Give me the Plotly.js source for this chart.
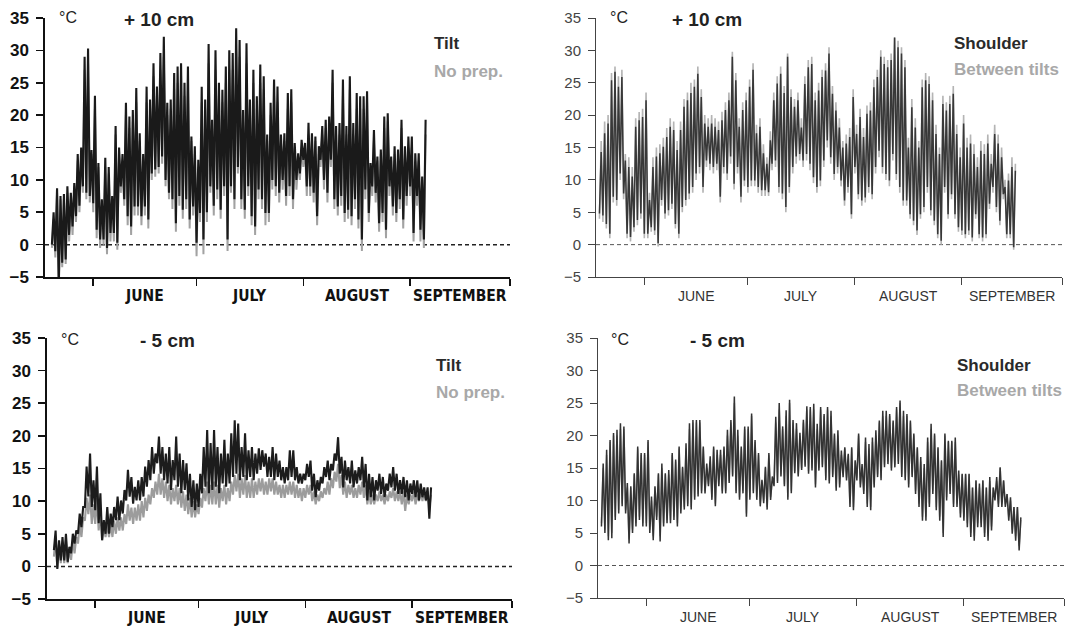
<!DOCTYPE html>
<html><head><meta charset="utf-8">
<script src="https://cdn.plot.ly/plotly-3.0.1.min.js"></script>
<style>html,body{margin:0;padding:0;background:#fff}#chart{width:1073px;height:628px}</style>
</head><body><div id="chart"></div>
<script>
// ---- Data (day index: May 1 = 0, June 1 = 31) ----
const monthBounds = [31, 61, 92, 123, 152];
const monthNames = ["JUNE", "JULY", "AUGUST", "SEPTEMBER"];
const yTicks = [-5, 0, 5, 10, 15, 20, 25, 30, 35];

// Top-left: +10 cm, Tilt vs No prep. (daily max / min), first day 19
const tlStart = 19;
const tlTiltMax = [5,8.7,7.5,7.8,9,8,9.5,14,15,29,30.3,
 14.6,23,12.6,7,13.4,12,7.5,18.3,15,14,
 21.9,19.8,20.8,24.2,17.2,14,24.4,22.4,28,24.4,
 29.6,32.1,21.9,22.4,26.5,27.5,28,25,27.5,16.7,
 15.2,13.1,24.4,22.4,31,19.3,30,25,23.9,27.5,
 30,29.6,33.4,31.6,20.8,31.1,22.4,27,22.9,27.8,
 26,17,21.9,25.5,24.4,17,17.2,23.4,24,15.7,
 14.1,16.2,15.7,18.8,17.2,16.7,15.2,18.3,19.3,19.8,
 27,18.3,18.8,25.5,18.3,26,18.8,23.4,22.9,22.9,
 23.7,12.6,17.7,13.6,14.7,19.8,20.3,13.6,15.2,14.7,
 19.3,15.2,16.7,16.7,14.1,14.1,10.5,19.3];
const tlTiltMin = [0,-1,-6.5,-2.8,-2.3,1.5,2.8,4.4,6,9,8,
 7.5,6.4,2.3,0.8,0.8,-0.5,1.8,1.8,0.3,9,
 7,4.4,2.8,5.9,5.9,4.4,5.9,3.9,11,11.6,
 12,13.6,10,8,7,3.3,7.5,5.4,7,3.9,
 5.9,0.3,4.9,0.8,5,9,6,8.5,5.4,9,
 0.8,9,7,12,7,5.4,9,4.4,2.8,8.5,
 7,4.9,4.9,10,9,8,10,7.5,9,7,
 10,11,13.1,9,9,8,4.4,13.1,10,8,
 13.1,7,5.9,7.5,4.9,5.4,4.4,7,3.9,0.8,
 8.5,4.9,9,8,3.3,4.9,2.3,9,5.9,4.9,
 7,3.9,7.5,9,1.8,7.5,2.3,0.8];
const tlNoPrepMax = [4,8,7,7,8,7,9,13,14,27,28,
 14,21,12,6,12,11,7,17,14,13,
 20,18,19,22,16,13,22,21,26,23,
 27,29,20,21,24,25,26,23,25,16,
 14,12,22,21,28,18,27,23,22,25,
 27,27,30,29,19,28,21,25,21,25,
 24,16,20,23,22,16,16,21,22,15,
 13,15,15,17,16,16,14,17,18,18,
 25,17,17,23,17,24,17,21,21,21,
 22,12,16,13,14,18,19,13,14,14,
 18,14,15,15,13,13,10,17];
const tlNoPrepMin = [-0.5,-2,-6,-3.5,-3,0.5,1.5,3.5,5,8,7,
 6.5,5,1,-0.5,0,-1.5,0.5,0.5,-0.8,8,
 6,3,1.5,4.5,4.5,3,4.5,2.5,10,10.5,
 11,12.5,9,7,5.5,2,6,4,5.5,2.5,
 4.5,-1.8,3.5,-1.5,3.5,8,4.5,7,4,7.5,
 -1,8,5.5,11,5.5,4,7.5,3,1.5,7,
 5.5,3,3.5,8.5,7.5,6.5,8.5,6,7.5,5.5,
 8.5,10,12,7.5,7.5,6.5,3,12,8.5,6.5,
 12,5.5,4.5,6,3.5,4,3,5.5,2.5,-1,
 7,3.5,7.5,6.5,2,3.5,1,7.5,4.5,3.5,
 5.5,2.5,6,7.5,0.5,6,0.5,-0.5];

// Top-right: +10 cm, Shoulder vs Between tilts, first day 18
const trStart = 18;
const trShoulderMax = [14.3,17.2,18.7,25.4,26.7,24.4,25.9,13,12,10.5,
 18.2,19.2,19.7,22.3,6.9,12,13.6,14.1,15.1,16.6,
 18.2,17.7,14.6,17.7,21.3,22.3,23.4,24.4,26.4,22.8,
 18.7,18.2,18.7,18.2,17.7,19.2,20.8,22.3,29,25.4,
 18.2,20.8,22.3,24.4,27,17.2,18.2,14.1,12.5,16.1,
 22.3,24.9,26.4,23.4,29,22.8,21.3,22.3,18.1,24.8,
 27.4,27.9,22.3,23.8,25.9,26.9,29.5,23.3,20.7,18.1,
 15,15.6,16.6,22.8,17.1,19.7,16.6,20.2,20.7,24.3,
 25.9,29,27.9,27.4,28.5,32,30.5,29.5,27.4,15,
 21.2,18.1,15,24.3,25.4,24.8,22.3,17.1,14,21.7,
 20.7,21.7,23.3,17.1,13.5,18.7,15,15.6,14,12,
 14.5,14,15.6,12.5,17.1,15.6,13.5,8.9,9.9,12,11.4];
const trShoulderMin = [4.8,4.5,3.2,1.7,7.4,6.9,11,7.9,1.7,1.2,
 2.7,3.8,4.8,1.7,1.7,2.7,2.2,0.2,6.9,4.8,
 5.3,6.3,3.2,1.7,5.8,6.9,7.9,8.9,11,12,
 8.9,13,12.5,12,12.5,7.4,12,11,13.6,9.4,
 12,7.4,9.9,8.9,9.9,9.9,8.9,8.4,8.4,8.1,
 12.5,13,8.9,7.9,5.8,8.9,12,13.6,14,13,
 14,12.5,10.4,8.9,9.9,13,16.1,13.5,10.9,12,
 9.9,6.8,8.9,4.7,12,7.8,6.8,7.3,8.9,7.8,
 12,14.5,12,10.9,9.9,14,10.9,8.9,6.8,6.8,
 4.7,3.7,2.2,4.7,5.8,8.9,5.3,3.7,1.6,0.6,
 8.9,4.7,7.8,4.7,2.7,2.2,1.6,2.2,1.1,4.7,
 1.6,1.1,1.6,6.3,8.9,5.8,3.7,7.8,1.6,1.6,-0.4];
const trBetweenMax = [16,19,20,26.5,27.5,26,27,14,13.5,12,
 19.5,20.5,21,23.5,8,13.5,15,15.5,16.5,18,
 19.5,19,16,19,22.5,23.5,25,25.5,27.5,24,
 20,19.5,20,19.5,19,20.5,22,23.5,29.8,26.5,
 19.5,22,23.5,25.5,28,18.5,19.5,15.5,13.5,17.5,
 23.5,26,27.5,24.5,29.5,24,22.5,23.5,19.5,26,
 28.5,29,23.5,25,27,28,30.5,24.5,22,19.5,
 16,17,18,24,18.5,21,18,21.5,22,25.5,
 27,30,29,28.5,29.5,32,31.5,30.5,28.5,16.5,
 22.5,19.5,16,25.5,26.5,26,23.5,18.5,15,23,
 22,23,24.5,18.5,15,20,16.5,17,15.5,13.5,
 16,15.5,17,14,18.5,17,15,10,11,13.5,12.5];
const trBetweenMin = [4,3.5,2.5,1,6.5,6,10,7,1,0.5,
 2,3,4,1,1,2,1.5,-0.3,6,4,
 4.5,5.5,2.5,1,5,6,7,8,10,11,
 8,12,11.5,11,11.5,6.5,11,10,12.5,8.5,
 11,6.5,9,8,9,9,8,7.5,7.5,7.5,
 11.5,12,8,7,5,8,11,12.5,13,12,
 13,11.5,9.5,8,9,12,15,12.5,10,11,
 9,6,8,4,11,7,6,6.5,8,7,
 11,13.5,11,10,9,13,10,8,6,6,
 4,3,1.5,4,5,8,4.5,3,1,0,
 8,4,7,4,2,1.5,1,1.5,0.5,4,
 1,0.5,1,5.5,8,5,3,7,1,1,-0.8];

// Bottom-left: -5 cm, Tilt vs No prep., first day 19
const blStart = 19;
const blTiltMax = [5.5,4,4.5,5,3,5,5.5,8.1,9.1,15.3,
 17.3,13.2,15.3,11.2,7.1,9.1,8.1,9.1,10.7,10.1,
 11.7,14.8,13.7,12.2,13.2,13.7,15.3,16.3,18.3,17.3,
 19.9,18.3,17.3,18.3,16.3,19.9,17.3,16.3,15.8,14.2,
 13.2,12.7,14.2,18.3,20.9,18.9,20.9,18.3,17.3,19.4,
 17.3,20.4,22.4,21.9,18.3,20.4,17.8,18.3,17.3,18.1,
 17.8,17.3,16.8,18.3,17.3,16.2,15.2,15.2,17.8,17.8,
 15.2,14.2,14.2,15.7,16.2,14.2,13.2,13.7,15.2,16.2,
 15.7,17.3,19.8,16.8,16.2,15.2,16.2,14.7,15.2,16.8,
 15.7,14.2,13.7,13.2,14.2,13.7,12.7,14.2,15.2,14.2,
 13.2,13.7,13.2,12.7,13.2,13.2,12.7,12.1,12.1,12.1];
const blTiltMin = [2.5,-0.4,0.9,0.9,0.7,2,3.5,5,6,9.1,
 10.7,9.1,8.6,6.6,4,5,5,6,7.1,7.1,
 8.1,10.1,10.7,9.6,10.1,10.1,10.7,12.2,13.2,14.2,
 15.8,14.2,13.2,12.7,11.7,13.2,12.2,11.2,11.7,10.1,
 9.1,8.6,9.1,11.2,12.2,11.2,11.7,12.2,11.2,12.7,
 12.2,12.7,13.7,14.2,13.2,13.7,13.2,13.7,13.2,14.2,
 14.8,15.3,13.7,13.7,13.2,13.7,13.2,12.7,13.2,13.7,
 13.2,12.7,12.7,13.2,13.7,11.6,10.6,11.6,12.7,13.7,
 13.2,14.7,16.2,14.2,12.1,13.2,12.7,12.1,12.7,13.2,
 12.1,10.1,10.6,10.1,11.6,11.1,10.6,11.6,12.1,11.6,
 11.1,11.1,10.6,10.1,11.1,10.6,10.1,10.6,10.1,7.3];
const blNoPrepMax = [4.5,3.5,3.5,4,2.5,4,4.5,6.5,7.5,10.5,
 11,9.5,10.5,8.5,6,6.5,6.5,7,7.5,7.5,
 8,9.5,9,9,9.5,10,10.5,11,12,13,
 14.2,13.5,13,12.5,12,12.5,12,11.5,11,10.5,
 10,9.5,10.5,12,13,12.5,13,12.5,12,12.5,
 12,13,14,14.2,13.5,14,13,13.5,13,13.5,
 13.5,13,13.5,13.5,13,12.5,12.5,12.5,13,13,
 12.5,12,12,12.5,12.5,11.5,11,11.5,12,13,
 13.5,14.5,15.7,14,13,12.5,12.5,12,12.5,13,
 12.5,11.5,11,11,11.5,11,11,11.5,12,11.5,
 11.5,11.5,11,11,11.5,11,11.5,11.5,11.5,11];
const blNoPrepMin = [1.5,-0.2,0.5,0.5,0.5,1,2,3.5,4.5,7,
 8,6.5,6.5,5.5,4,4.5,4.5,4.5,5,5.5,
 5.5,6.5,7,6.5,7,7,7.5,8.5,9.5,10.5,
 11,11,10.5,10,9.5,10,9.5,9,8.5,8,
 7.5,7.5,8,9,10,9.5,9.5,9.5,9,10,
 9.5,10,11,11.5,10.5,11,10.5,10.5,10.5,11,
 11.5,11,11,11.5,11,11,10.5,10.5,11,11,
 10.5,10.5,10,10.5,11,10,9.5,10,10.5,11,
 11,12,13,12,11,10.5,11,10.5,10.5,11,
 10.5,9.5,9.5,9.5,10,10,9.5,10,10.5,10,
 10,9.5,8.5,9.5,10,9.5,10,10,10,9];

// Bottom-right: -5 cm, Shoulder vs Between tilts, first day 18
const brStart = 18;
const brShoulderMax = [15.7,17.8,19.3,20.4,20.9,21.9,21.4,12.7,12.2,14.2,
 18.3,17.3,17.3,19.3,10.6,12.2,14.2,15.7,14.2,14.7,
 17.3,16.3,18.3,15.2,18.8,21.9,22.4,22.4,22.4,18.3,
 15.7,16.8,18.3,17.8,17.8,18.3,20.9,22.4,26,20.9,
 18.3,21.4,21.4,23.4,19.3,17.3,13.2,15.2,17.3,13.7,
 22.9,25,21.4,23.9,25.5,22.4,21.9,20.4,22.4,24.5,
 24.4,24.9,21.8,24.4,23.3,24.4,23.8,20.3,20.8,17.7,
 18.2,17.2,18.2,16.2,20.3,15.6,19.7,18.7,19.7,20.8,
 22.3,23.8,23.8,23.3,22.3,24.4,25.4,23.8,23.3,22.3,
 20.3,18.2,16.7,15.6,19.7,21.8,20.3,18.2,16.2,20.3,
 19.2,19.2,19.7,14.6,14.1,14.1,14.1,12,13.1,12.6,
 13.1,12,13.6,12,13.6,15.1,13.1,11,10.5,9,9,7.4];
const brShoulderMin = [6,5,3.9,4.2,7,8,9.1,8,3.4,5,
 6,7,6,6,5,3.9,7,3.7,6,6.5,
 6.5,7,6,8,8.6,9.1,8.6,10.1,10.6,11.1,
 11.1,12.2,10.1,9.1,12.2,11.1,11.1,12.7,13.7,11.1,
 10.1,11.1,7.5,10.1,11.1,10.1,9.1,9.6,8.6,10.1,
 12.2,12.7,13.7,12.2,10.1,11.1,14.2,13.7,14.7,15.2,
 14.1,14.6,12,14.6,15.1,13.1,12.6,13.6,11.5,12,
 13.6,13.1,9,8.5,13.1,12,11,9,8.5,12,
 13.6,13.1,15.1,15.6,14.6,15.1,15.6,13.6,13.1,12,
 13.6,11,9,6.9,6.9,9,11,8.5,6.9,4.4,
 10,11,9,9,7.4,6.9,5.9,4.4,3.8,5.9,
 5.9,4.4,3.8,5.4,10,9,9,9,6.9,4.9,3.8,2.3];
const brBetweenMax = [15,17,19,20,20,21,21,12,12,14,
 18,17,17,19,10,12,14,15,14,14,
 17,16,18,15,18,21,22,22,22,18,
 15,16,18,17,17,18,20,22,25,20,
 18,21,21,23,19,17,13,15,17,13,
 22,24,21,23,25,22,21,20,22,24,
 24,24,21,24,23,24,23,20,20,17,
 18,17,18,16,20,15,19,18,19,20,
 22,23,23,23,22,24,25,23,23,22,
 20,18,16,15,19,21,20,18,16,20,
 19,19,19,14,14,14,14,12,13,12,
 13,12,13,12,13,15,13,11,10,9,9,7];
const brBetweenMin = [6.5,5.5,4.5,5,7.5,8.5,9.5,8.5,4,5.5,
 6.5,7.5,6.5,6.5,5.5,4.5,7.5,4.5,6.5,7,
 7,7.5,6.5,8.5,9,9.5,9,10.5,11,11.5,
 11.5,12.5,10.5,9.5,12.5,11.5,11.5,13,14,11.5,
 10.5,11.5,8,10.5,11.5,10.5,9.5,10,9,10.5,
 12.5,13,14,12.5,10.5,11.5,14.5,14,15,15.5,
 14.5,15,12.5,15,15.5,13.5,13,14,12,12.5,
 14,13.5,9.5,9,13.5,12.5,11.5,9.5,9,12.5,
 14,13.5,15.5,16,15,15.5,16,14,13.5,12.5,
 14,11.5,9.5,7.5,7.5,9.5,11.5,9,7.5,5,
 10.5,11.5,9.5,9.5,8,7.5,6.5,5,4.5,6.5,
 6.5,5,4.5,6,10.5,9.5,9.5,9.5,7.5,5.5,4.5,3];

// ---- Build daily min->max zigzag (two readings per day) ----
function zig(start, mx, mn) {
  const x = [], y = [];
  for (let i = 0; i < mx.length; i++) {
    x.push(start + i, start + i + 0.5);
    y.push(mn[i], mx[i]);
  }
  return {x, y};
}
function tr(start, mx, mn, xa, ya, color, w, name) {
  const z = zig(start, mx, mn);
  return {x: z.x, y: z.y, xaxis: xa, yaxis: ya, type: 'scatter', mode: 'lines',
    line: {color: color, width: w}, name: name, showlegend: false, hoverinfo: 'skip'};
}

const W = 1073, H = 628;
const px = v => v / W, py = v => 1 - v / H;

const panels = [
  {xa: 'x',  ya: 'y',  xd: [45, 510],   yd: [277, 18],  bold: true},
  {xa: 'x2', ya: 'y2', xd: [596, 1062], yd: [277, 18],  bold: false},
  {xa: 'x3', ya: 'y3', xd: [47, 512],   yd: [599, 338], bold: true},
  {xa: 'x4', ya: 'y4', xd: [598, 1064], yd: [598, 338], bold: false}
];

const data = [
  tr(tlStart, tlNoPrepMax, tlNoPrepMin, 'x', 'y', '#a2a2a2', 2.0, 'No prep.'),
  tr(tlStart, tlTiltMax, tlTiltMin, 'x', 'y', '#1a1a1a', 2.1, 'Tilt'),
  tr(trStart, trBetweenMax, trBetweenMin, 'x2', 'y2', '#b4b4b4', 1.6, 'Between tilts'),
  tr(trStart, trShoulderMax, trShoulderMin, 'x2', 'y2', '#383838', 1.5, 'Shoulder'),
  tr(blStart, blNoPrepMax, blNoPrepMin, 'x3', 'y3', '#9c9c9c', 2.1, 'No prep.'),
  tr(blStart, blTiltMax, blTiltMin, 'x3', 'y3', '#1c1c1c', 2.1, 'Tilt'),
  tr(brStart, brBetweenMax, brBetweenMin, 'x4', 'y4', '#b0b0b0', 1.6, 'Between tilts'),
  tr(brStart, brShoulderMax, brShoulderMin, 'x4', 'y4', '#333333', 1.5, 'Shoulder')
];

const boldFont = 'DejaVu Sans Condensed, Liberation Sans, Arial, sans-serif';
const plainFont = 'Liberation Sans, Arial, sans-serif';

const layout = {
  width: W, height: H, margin: {l: 0, r: 0, t: 0, b: 0},
  paper_bgcolor: '#fff', plot_bgcolor: 'rgba(0,0,0,0)', showlegend: false,
  shapes: [], annotations: []
};

panels.forEach((p, i) => {
  const n = i === 0 ? '' : String(i + 1);
  const axCol = p.bold ? '#111' : '#444';
  const lw = p.bold ? 1.6 : 1;
  layout['xaxis' + n] = {
    domain: [px(p.xd[0]), px(p.xd[1])], anchor: 'y' + n, range: [17, 152],
    tickvals: monthBounds, ticks: 'outside', ticklen: 7, tickwidth: lw, tickcolor: axCol,
    showticklabels: false, showline: true, linecolor: axCol, linewidth: lw,
    showgrid: false, zeroline: false, fixedrange: true
  };
  layout['yaxis' + n] = {
    domain: [py(p.yd[0]), py(p.yd[1])], anchor: 'x' + n, range: [-5, 35],
    tickvals: yTicks, ticks: 'outside', ticklen: 7, tickwidth: lw, tickcolor: axCol,
    showline: true, linecolor: axCol, linewidth: lw, showgrid: false, zeroline: false,
    ticklabelstandoff: 4,
    tickfont: p.bold ? {family: plainFont, size: 17, weight: 'bold', color: '#111'}
                     : {family: plainFont, size: 15, color: '#444'},
    fixedrange: true
  };
  layout.shapes.push({type: 'line', xref: 'x' + n + ' domain', yref: 'y' + n, x0: 0, x1: 1, y0: 0, y1: 0,
    layer: 'below', line: {color: p.bold ? '#222' : '#555', width: p.bold ? 1.5 : 1, dash: '4px,3px'}});
  // month labels
  const labY = p.yd[0] + 19;
  monthNames.forEach((m, k) => {
    layout.annotations.push({xref: 'x' + n, yref: 'paper', x: (monthBounds[k] + monthBounds[k + 1]) / 2,
      y: py(labY), text: m, showarrow: false, xanchor: 'center', yanchor: 'middle',
      font: p.bold ? {family: boldFont, size: 15.5, weight: 'bold', color: '#111'}
                   : {family: plainFont, size: 14, color: '#333'}});
  });
});

function ann(text, x, y, font, anchor) {
  layout.annotations.push({xref: 'paper', yref: 'paper', x: px(x), y: py(y), text: text,
    showarrow: false, xanchor: anchor || 'left', yanchor: 'middle', font: font});
}
const unitFont = {family: plainFont, size: 16, color: '#222'};
const depthFont = {family: plainFont, size: 19, weight: 'bold', color: '#222'};
const legDark = {family: plainFont, size: 17, weight: 'bold', color: '#2a2a2a'};
const legGray = {family: plainFont, size: 17, weight: 'bold', color: '#a8a8a8'};

ann('°C', 57, 18, unitFont); ann('+ 10 cm', 122, 19, depthFont);
ann('°C', 608, 18, unitFont); ann('+ 10 cm', 670, 19, depthFont);
ann('°C', 59, 339, unitFont); ann('- 5 cm', 138, 340, depthFont);
ann('°C', 609, 339, unitFont); ann('- 5 cm', 688, 340, depthFont);

ann('Tilt', 432, 43, legDark); ann('No prep.', 432, 71, legGray);
ann('Shoulder', 952, 43, legDark); ann('Between tilts', 952, 69, legGray);
ann('Tilt', 434, 365, legDark); ann('No prep.', 434, 392, legGray);
ann('Shoulder', 955, 365, legDark); ann('Between tilts', 955, 390, legGray);

Plotly.newPlot('chart', data, layout, {staticPlot: true, displayModeBar: false});
</script>
</body></html>
